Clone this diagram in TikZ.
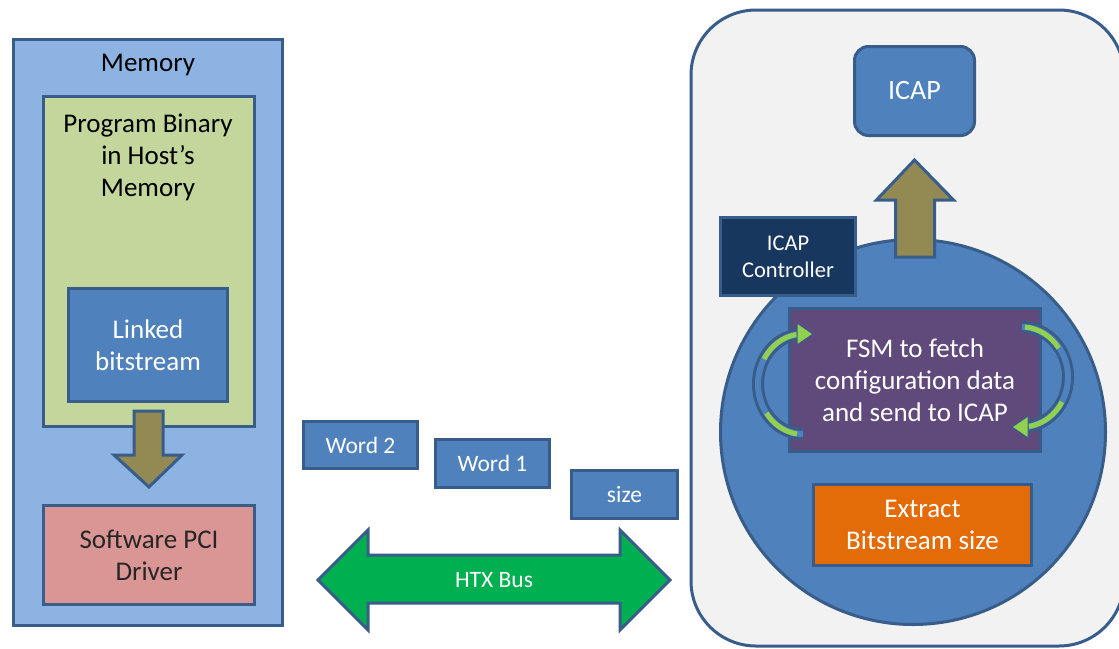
\documentclass[tikz,border=0pt]{standalone}
\usepackage{fontspec}
\setmainfont{Carlito}
\usetikzlibrary{calc}
\definecolor{edge}{HTML}{385D8A}
\definecolor{memblue}{HTML}{8DB3E2}
\definecolor{progreen}{HTML}{C3D69B}
\definecolor{midblue}{HTML}{4F81BD}
\definecolor{drvpink}{HTML}{D99694}
\definecolor{olive}{HTML}{938953}
\definecolor{busgreen}{HTML}{00B050}
\definecolor{navy}{HTML}{17375E}
\definecolor{fsmpurple}{HTML}{604A7B}
\definecolor{extorange}{HTML}{E36C09}
\definecolor{panel}{HTML}{F2F2F2}
\definecolor{loopgreen}{HTML}{92D050}
\begin{document}
\begin{tikzpicture}[x=1pt,y=-1pt,
  box/.style={draw=edge, line width=3pt, align=center, inner sep=0pt},
  bigtext/.style={font=\fontsize{27}{32}\selectfont},
  smalltext/.style={font=\fontsize{23.5}{28}\selectfont},
  ctltext/.style={font=\fontsize{22.5}{27}\selectfont},
  blockarrow/.style={draw=edge, line width=3pt, line join=miter},
  band/.style={line width=12pt, draw=edge},
  bandfill/.style={line width=6pt, draw=midblue},
  loopseg/.style={line width=5pt, draw=loopgreen},
  loophead/.style={fill=loopgreen, draw=edge, line width=1pt}]
\useasboundingbox (0,0) rectangle (1119,648);
\clip (0,0) rectangle (1119,648);
\fill[white] (0,0) rectangle (1119,648);

% ---------- host side ----------
\node[box, fill=memblue, minimum width=269, minimum height=586] (mem) at (148,332.5) {};
\node[bigtext] (memlbl) at (148,65) {Memory};
\node[box, fill=progreen, minimum width=211, minimum height=330] (prog) at (149,261.5) {};
\node[bigtext, align=center] (proglbl) at (148,157) {Program Binary\\in Host's\\Memory};
\node[box, fill=midblue, minimum width=159, minimum height=113, bigtext, text=white] (linked) at (148,345) {Linked\\bitstream};
\node[box, fill=drvpink, minimum width=211, minimum height=99, bigtext, text=black!85] (driver) at (149,555) {Software PCI\\Driver};

% bitstream handed to the driver
\draw[blockarrow, fill=olive]
  ($(linked.south)+(-14,8)$) -- ($(linked.south)+(15,8)$) -- ($(linked.south)+(15,52)$)
  -- ($(linked.south)+(34,52)$) -- ($(driver.north)+(0,-17)$)
  -- ($(linked.south)+(-34,52)$) -- ($(linked.south)+(-14,52)$) -- cycle;

% ---------- words on the bus ----------
\node[box, fill=midblue, minimum width=114, minimum height=47, smalltext, text=white] (w2) at (360.5,445) {Word 2};
\node[box, fill=midblue, minimum width=114, minimum height=48, smalltext, text=white] (w1) at (492.5,463.5) {Word 1};
\node[box, fill=midblue, minimum width=106, minimum height=48, smalltext, text=white] (sz) at (624.5,494) {size};

% HTX bus
\coordinate (busL) at (318,580);
\coordinate (busR) at (670,580);
\draw[blockarrow, fill=busgreen]
  (busL) -- ++(50,-50) -- ++(0,25) -- ($(busR)+(-50,-25)$) -- ++(0,-25) -- (busR)
  -- ++(-50,50) -- ++(0,-27) -- ($(busL)+(50,23)$) -- ++(0,27) -- cycle;
\node[smalltext, text=white] (bus) at (494,580) {HTX Bus};

% ---------- FPGA side ----------
\draw[draw=edge, line width=3pt, fill=panel, rounded corners=65] (691,10) rectangle (1124,646);
\node[box, fill=midblue, minimum width=120, minimum height=89, rounded corners=14,
      font=\fontsize{28}{32}\selectfont, text=white] (icap) at (914.5,91) {ICAP};
\node[draw=edge, line width=3pt, fill=midblue, circle, minimum size=385, inner sep=0pt] (ctl) at (913,432) {};

% configuration data pushed to ICAP
\draw[blockarrow, fill=olive]
  ($(icap.south)+(0,23)$) -- ($(icap.south)+(39,63)$) -- ($(icap.south)+(20,63)$)
  -- ($(icap.south)+(20,120)$) -- ($(icap.south)+(-19,120)$) -- ($(icap.south)+(-19,63)$)
  -- ($(icap.south)+(-38,63)$) -- cycle;

\node[box, fill=navy, minimum width=135, minimum height=78, ctltext, text=white] (icapctl) at (788,256.5) {ICAP\\Controller};
\node[box, fill=fsmpurple, minimum width=251, minimum height=143, bigtext, text=white] (fsm) at (915,380) {FSM to fetch\\configuration data\\and send to ICAP};
\node[box, fill=extorange, minimum width=218, minimum height=81, bigtext, text=white] (extract) at (922.5,525) {Extract\\Bitstream size};

% FSM loop, left side
\coordinate (lc) at (803,384);
\draw[band] ($(lc)+(0,-50)$) arc[start angle=270, end angle=90, x radius=45, y radius=50];
\draw[bandfill] ($(lc)+(0,-50)$) arc[start angle=270, end angle=90, x radius=45, y radius=50];
\draw[loopseg] ($(lc)+(-39,-25)$) arc[start angle=210, end angle=262, x radius=45, y radius=50];
\draw[loopseg] ($(lc)+(-6,50)$) arc[start angle=98, end angle=145, x radius=45, y radius=50];
\draw[loophead] ($(lc)+(-6,-61)$) -- ($(lc)+(10,-50)$) -- ($(lc)+(-6,-39)$) -- cycle;

% FSM loop, right side
\coordinate (rc) at (1022,377);
\draw[band] ($(rc)+(0,-50)$) arc[start angle=-90, end angle=90, x radius=46, y radius=50];
\draw[bandfill] ($(rc)+(0,-50)$) arc[start angle=-90, end angle=90, x radius=46, y radius=50];
\draw[loopseg] ($(rc)+(3,-50)$) arc[start angle=-85, end angle=-35, x radius=46, y radius=50];
\draw[loopseg] ($(rc)+(40,25)$) arc[start angle=30, end angle=82, x radius=46, y radius=50];
\draw[loophead] ($(rc)+(6,39)$) -- ($(rc)+(-10,50)$) -- ($(rc)+(6,61)$) -- cycle;
\end{tikzpicture}
\end{document}
